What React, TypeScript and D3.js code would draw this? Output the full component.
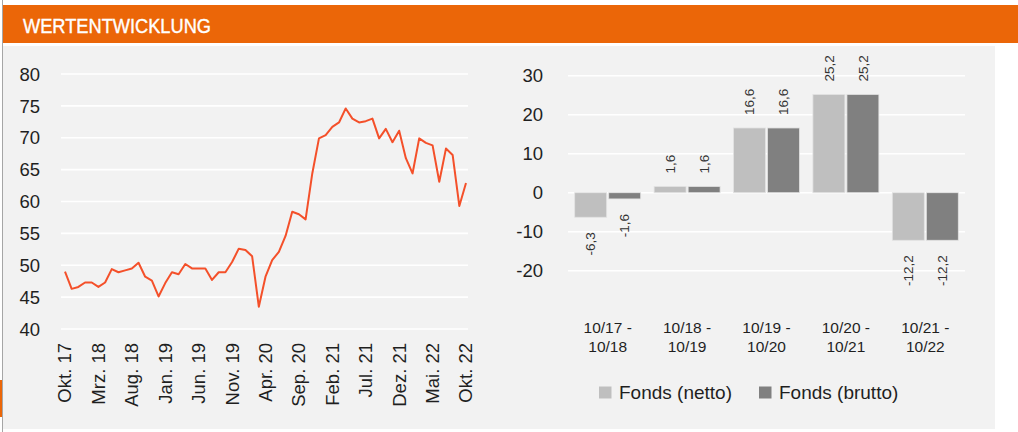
import React from "react";
import * as d3 from "d3";

// ---- Data ----
const fundValues: number[] = [
  49.0, 46.3, 46.6, 47.3, 47.3, 46.6, 47.3, 49.4, 48.9, 49.2,
  49.5, 50.4, 48.2, 47.6, 45.1, 47.2, 48.9, 48.6, 50.2, 49.5,
  49.5, 49.5, 47.7, 48.9, 48.9, 50.5, 52.6, 52.4, 51.4, 43.5,
  48.2, 50.8, 52.1, 54.6, 58.4, 58.0, 57.2, 64.4, 69.9, 70.4,
  71.7, 72.4, 74.6, 73.0, 72.4, 72.6, 73.0, 69.9, 71.4, 69.3,
  71.1, 66.8, 64.4, 69.9, 69.2, 68.8, 63.1, 68.3, 67.3, 59.3,
  62.9,
];
const monthTickLabels: string[] = [
  "Okt. 17", "Mrz. 18", "Aug. 18", "Jan. 19", "Jun. 19", "Nov. 19", "Apr. 20",
  "Sep. 20", "Feb. 21", "Jul. 21", "Dez. 21", "Mai. 22", "Okt. 22",
];
const leftYTicks: number[] = [40, 45, 50, 55, 60, 65, 70, 75, 80];

const periods: string[][] = [
  ["10/17 -", "10/18"],
  ["10/18 -", "10/19"],
  ["10/19 -", "10/20"],
  ["10/20 -", "10/21"],
  ["10/21 -", "10/22"],
];
const seriesNames: string[] = ["Fonds (netto)", "Fonds (brutto)"];
const nettoValues: number[] = [-6.3, 1.6, 16.6, 25.2, -12.2];
const bruttoValues: number[] = [-1.6, 1.6, 16.6, 25.2, -12.2];
const rightYTicks: number[] = [-20, -10, 0, 10, 20, 30];

const FONT = "'Liberation Sans', Arial, sans-serif";
const TEXT = "#1f1f1f";
const ORANGE = "#eb6608";
const LINE = "#f4502a";
const BAR_COLORS = ["#bfbfbf", "#808080"];

const fmt = (v: number) => v.toFixed(1).replace(".", ",");

export default function App() {
  // left line chart scales
  const xL = d3.scaleLinear().domain([0, fundValues.length - 1]).range([65, 466]);
  const yL = d3.scaleLinear().domain([40, 80]).range([329, 74]);
  const line = d3
    .line<number>()
    .x((_, i) => xL(i))
    .y((d) => yL(d));

  // right bar chart scales
  const yR = d3.scaleLinear().domain([-20, 30]).range([270.7, 75.7]);
  const groupKeys = periods.map((p) => p.join(" "));
  const xG = d3
    .scaleBand<string>()
    .domain(groupKeys)
    .range([568, 965])
    .paddingInner(0.169)
    .paddingOuter(0.0845);
  const xS = d3
    .scaleBand<string>()
    .domain(seriesNames)
    .range([0, xG.bandwidth()])
    .paddingInner(0.06);
  const series = [nettoValues, bruttoValues];

  return (
    <svg
      width={1018}
      height={432}
      style={{ position: "absolute", left: 0, top: 0, background: "#ffffff" }}
      fontFamily={FONT}
    >
      {/* panel background */}
      <rect x={3} y={46} width={992} height={383} fill="#f2f2f2" />
      {/* header */}
      <rect x={3} y={5} width={1015} height={38} fill={ORANGE} />
      <text
        x={23}
        y={33.3}
        fill="#ffffff"
        fontSize={20.5}
        stroke="#ffffff"
        strokeWidth={0.4}
        textLength={188}
        lengthAdjust="spacingAndGlyphs"
      >
        WERTENTWICKLUNG
      </text>
      {/* left border line and orange strip */}
      <line x1={2.5} x2={2.5} y1={0} y2={432} stroke="#a6a6a6" strokeWidth={1} />
      <rect x={0} y={380} width={2} height={37} fill={ORANGE} />

      {/* ---------- Left chart ---------- */}
      {leftYTicks.map((t) => (
        <g key={"gl" + t}>
          <line x1={61} x2={468} y1={yL(t)} y2={yL(t)} stroke="#ffffff" strokeWidth={1.6} />
          <text
            x={40}
            y={yL(t)}
            dy="0.36em"
            textAnchor="end"
            fontSize={18.5}
            fill={TEXT}
          >
            {t}
          </text>
        </g>
      ))}
      <path d={line(fundValues) || ""} fill="none" stroke={LINE} strokeWidth={2} strokeLinejoin="round" />
      {monthTickLabels.map((lab, i) => (
        <text
          key={"mx" + i}
          transform={`translate(${xL(i * 5)},343) rotate(-90)`}
          dy="0.35em"
          textAnchor="end"
          fontSize={18.5}
          fill={TEXT}
        >
          {lab}
        </text>
      ))}

      {/* ---------- Right chart ---------- */}
      {rightYTicks.map((t) => (
        <g key={"gr" + t}>
          <line x1={568} x2={965} y1={yR(t)} y2={yR(t)} stroke="#ffffff" strokeWidth={1.6} />
          <text
            x={543}
            y={yR(t)}
            dy="0.36em"
            textAnchor="end"
            fontSize={18.5}
            fill={TEXT}
          >
            {t}
          </text>
        </g>
      ))}
      {groupKeys.map((g, gi) => (
        <g key={"bg" + g} transform={`translate(${xG(g)},0)`}>
          {series.map((vals, si) => {
            const v = vals[gi];
            const x0 = xS(seriesNames[si]) as number;
            const w = xS.bandwidth();
            const yTop = yR(Math.max(0, v));
            const yBot = yR(Math.min(0, v));
            const cx = x0 + w / 2;
            return (
              <g key={"b" + si}>
                <rect
                  x={x0}
                  y={yTop}
                  width={w}
                  height={yBot - yTop}
                  fill={BAR_COLORS[si]}
                  stroke="#e3e3e3"
                  strokeWidth={0.8}
                />
                {v >= 0 ? (
                  <text
                    transform={`translate(${cx},${yTop - 13}) rotate(-90)`}
                    dy="0.35em"
                    textAnchor="start"
                    fontSize={13.5}
                    fill="#333333"
                  >
                    {fmt(v)}
                  </text>
                ) : (
                  <text
                    transform={`translate(${cx},${yBot + 15}) rotate(-90)`}
                    dy="0.35em"
                    textAnchor="end"
                    fontSize={13.5}
                    fill="#333333"
                  >
                    {fmt(v)}
                  </text>
                )}
              </g>
            );
          })}
          {periods[gi].map((ln, li) => (
            <text
              key={"pl" + li}
              x={xG.bandwidth() / 2}
              y={332.5 + li * 19}
              textAnchor="middle"
              fontSize={15.5}
              fill={TEXT}
            >
              {ln}
            </text>
          ))}
        </g>
      ))}

      {/* legend */}
      {seriesNames.map((name, i) => {
        const lx = [599, 759][i];
        return (
          <g key={"lg" + i}>
            <rect x={lx} y={386.5} width={12.5} height={12} fill={BAR_COLORS[i]} />
            <text x={lx + 20} y={399.3} fontSize={19} fill={TEXT}>
              {name}
            </text>
          </g>
        );
      })}
    </svg>
  );
}
